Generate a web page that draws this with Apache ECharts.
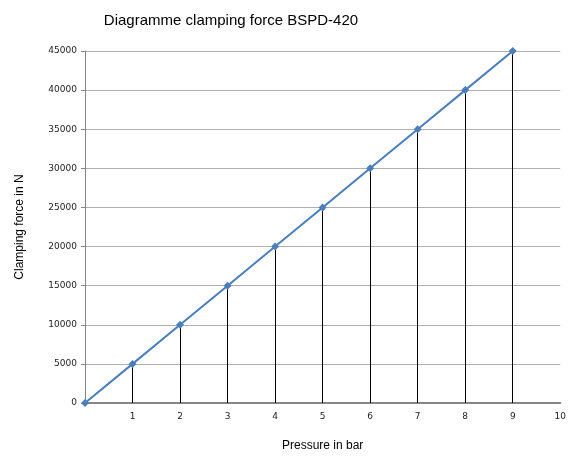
<!DOCTYPE html>
<html><head><meta charset="utf-8">
<script src="https://cdn.jsdelivr.net/npm/echarts@6/dist/echarts.min.js"></script>
<style>html,body{margin:0;padding:0;background:#fff;overflow:hidden}#c{width:569px;height:457px}</style>
</head><body><div id="c"></div>
<script>
var pressure = [0, 1, 2, 3, 4, 5, 6, 7, 8, 9];
var force = [0, 5000, 10000, 15000, 20000, 25000, 30000, 35000, 40000, 45000];
var titleText = 'Diagramme clamping force BSPD-420';
var xName = 'Pressure in bar';
var yName = 'Clamping force in N';

var pts = pressure.map(function(p, i){ return [p, force[i]]; });
var drops = [];
pressure.forEach(function(p, i){
  if (force[i] > 0) drops.push([{coord:[p, 0]}, {coord:[p, force[i]]}]);
});

var chart = echarts.init(document.getElementById('c'), null, {renderer:'canvas', width: 569, height: 457});
chart.setOption({
  animation: false,
  backgroundColor: '#fff',
  title: {text: titleText, left: 226, top: 8, textAlign: 'center',
    textStyle: {fontFamily: 'Liberation Sans, Arial', fontSize: 15, fontWeight: 'normal', color: '#000'}},
  grid: {left: 85, right: 8, top: 51, bottom: 45, containLabel: false},
  xAxis: {type: 'value', min: 0, max: 10, interval: 1,
    name: xName, nameLocation: 'middle', nameGap: 37,
    nameTextStyle: {fontFamily: 'Liberation Sans, Arial', fontSize: 12, color: '#000'},
    axisLine: {show: true, lineStyle: {color: '#868686', width: 2}},
    axisTick: {show: false},
    splitLine: {show: false},
    axisLabel: {fontFamily: 'DejaVu Sans', fontSize: 9, color: '#222', margin: 9,
      formatter: function(v){ return v === 0 ? '' : String(v); }}
  },
  yAxis: {type: 'value', min: 0, max: 45000, interval: 5000,
    name: yName, nameLocation: 'middle', nameGap: 59, nameRotate: 90,
    nameTextStyle: {fontFamily: 'Liberation Sans, Arial', fontSize: 12, color: '#000'},
    axisLine: {show: true, lineStyle: {color: '#868686', width: 1}},
    axisTick: {show: true, length: 4, lineStyle: {color: '#868686'}},
    splitLine: {show: true, lineStyle: {color: '#b0b0b0', width: 1}},
    axisLabel: {fontFamily: 'DejaVu Sans', fontSize: 9, color: '#222', margin: 8,
      formatter: function(v){ return String(v); }}
  },
  series: [{
    type: 'line', data: pts, z: 5,
    lineStyle: {color: '#4a7ebb', width: 2},
    itemStyle: {color: '#4a7ebb'},
    symbol: 'diamond', symbolSize: 8,
    markLine: {silent: true, symbol: 'none', animation: false, z: 2,
      label: {show: false},
      lineStyle: {color: '#000', width: 1, type: 'solid'},
      data: drops}
  }]
});
</script></body></html>
